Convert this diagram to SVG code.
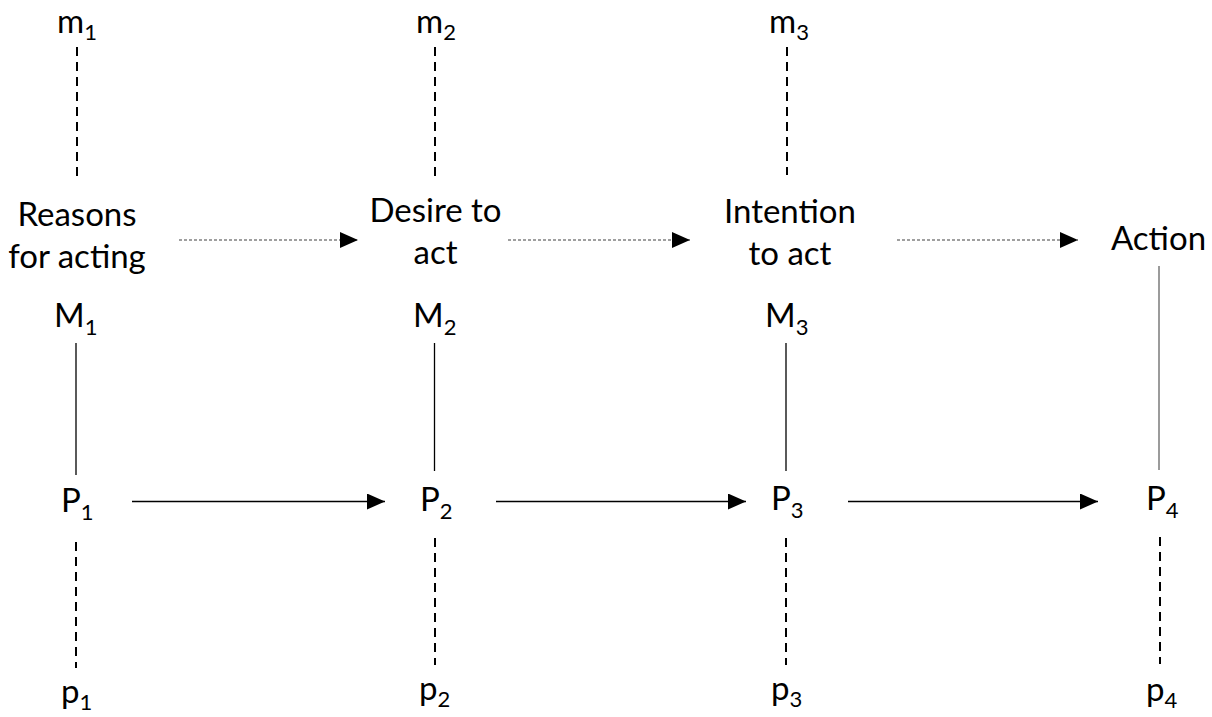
<svg xmlns="http://www.w3.org/2000/svg" width="1212" height="717" viewBox="0 0 1212 717">
<defs>
<style>
text{font-family:Lato,"Liberation Sans",sans-serif;font-size:33px;fill:#000}
.c{text-anchor:middle}
.sub{font-size:22px}
.dash{stroke:#000;stroke-width:2;stroke-dasharray:9 6;fill:none}
.solid{stroke:#000;stroke-width:1.3;fill:none}
.grey{stroke:#7a7a7a;stroke-width:1.5;fill:none}
.dot{stroke:#808080;stroke-width:1.6;stroke-dasharray:3 2;fill:none}
</style>
<marker id="ah" viewBox="0 0 18 16" refX="18" refY="8" markerWidth="18" markerHeight="16" markerUnits="userSpaceOnUse" orient="auto">
<path d="M0,0 L18,8 L0,16 Z" fill="#000"/>
</marker>
</defs>
<rect width="1212" height="717" fill="#fff"/>
<g id="connectors">
<line class="dash" x1="77" y1="47" x2="77" y2="180"/>
<line class="dash" x1="435" y1="47" x2="435" y2="177"/>
<line class="dash" x1="787" y1="47" x2="787" y2="175"/>
<line class="dot" x1="179" y1="240" x2="358" y2="240" marker-end="url(#ah)"/>
<line class="dot" x1="508" y1="240" x2="690" y2="240" marker-end="url(#ah)"/>
<line class="dot" x1="897" y1="240" x2="1078" y2="240" marker-end="url(#ah)"/>
<line class="solid" x1="76" y1="343" x2="76" y2="475"/>
<line class="solid" x1="434.5" y1="343" x2="434.5" y2="471"/>
<line class="solid" x1="786" y1="343" x2="786" y2="471"/>
<line class="grey" x1="1159" y1="266" x2="1159" y2="470"/>
<line class="solid" x1="132" y1="501.5" x2="385" y2="501.5" marker-end="url(#ah)"/>
<line class="solid" x1="496" y1="501.5" x2="746" y2="501.5" marker-end="url(#ah)"/>
<line class="solid" x1="848" y1="501.5" x2="1098" y2="501.5" marker-end="url(#ah)"/>
<line class="dash" x1="76" y1="542" x2="76" y2="668"/>
<line class="dash" x1="435" y1="538" x2="435" y2="665"/>
<line class="dash" x1="786" y1="538" x2="786" y2="665"/>
<line class="dash" x1="1160" y1="537" x2="1160" y2="664"/>
</g>
<g id="m1"><text x="57" y="33">m<tspan class="sub" dy="7">1</tspan></text></g>
<g id="m2"><text x="416" y="33">m<tspan class="sub" dy="7">2</tspan></text></g>
<g id="m3"><text x="769" y="33">m<tspan class="sub" dy="7">3</tspan></text></g>
<g id="reasons"><text class="c" x="77" y="226">Reasons</text><text class="c" x="77" y="268">for acting</text></g>
<g id="desire"><text class="c" x="435.5" y="222">Desire to</text><text class="c" x="435.5" y="264">act</text></g>
<g id="intention"><text class="c" x="790" y="223">Intention</text><text class="c" x="790" y="265">to act</text></g>
<g id="action"><text class="c" x="1158.5" y="250">Action</text></g>
<g id="M1"><text x="54" y="327">M<tspan class="sub" dy="8">1</tspan></text></g>
<g id="M2"><text x="413" y="327">M<tspan class="sub" dy="8">2</tspan></text></g>
<g id="M3"><text x="765" y="327">M<tspan class="sub" dy="8">3</tspan></text></g>
<g id="P1"><text x="61" y="512">P<tspan class="sub" dy="8">1</tspan></text></g>
<g id="P2"><text x="420" y="511">P<tspan class="sub" dy="8">2</tspan></text></g>
<g id="P3"><text x="771" y="510">P<tspan class="sub" dy="8">3</tspan></text></g>
<g id="P4"><text x="1146" y="510">P<tspan class="sub" dy="8">4</tspan></text></g>
<g id="p1"><text x="61" y="703">p<tspan class="sub" dy="7">1</tspan></text></g>
<g id="p2"><text x="419" y="700">p<tspan class="sub" dy="7">2</tspan></text></g>
<g id="p3"><text x="771" y="700">p<tspan class="sub" dy="7">3</tspan></text></g>
<g id="p4"><text x="1146" y="701">p<tspan class="sub" dy="7">4</tspan></text></g>
</svg>
